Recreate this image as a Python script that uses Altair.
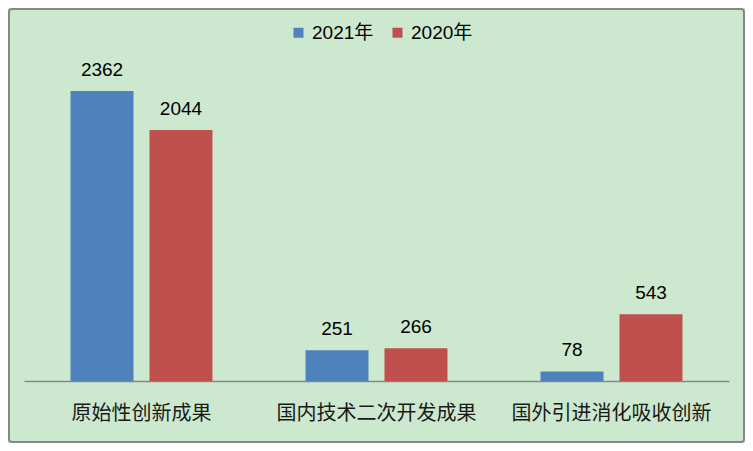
import altair as alt
import pandas as pd

categories = ["原始性创新成果", "国内技术二次开发成果", "国外引进消化吸收创新"]
series = ["2021年", "2020年"]
values_2021 = [2362, 251, 78]
values_2020 = [2044, 266, 543]
colors = ["#4F81BD", "#C0504D"]

rows = []
for c, a, b in zip(categories, values_2021, values_2020):
    rows.append({"category": c, "series": series[0], "value": a})
    rows.append({"category": c, "series": series[1], "value": b})
df = pd.DataFrame(rows)

NUM_FONT = "Liberation Sans, Noto Sans CJK SC"
CJK_FONT = "Noto Sans CJK SC"

x_enc = alt.X(
    "category:N",
    sort=categories,
    scale=alt.Scale(paddingInner=0.396, paddingOuter=0.198),
    axis=alt.Axis(
        title=None,
        labelAngle=0,
        domainColor="#868686",
        domainWidth=1.5,
        ticks=False,
        labelFont=CJK_FONT,
        labelFontSize=20,
        labelColor="#1a1a1a",
        labelPadding=22,
        labelLimit=0,
    ),
)
xo_enc = alt.XOffset(
    "series:N", sort=series, scale=alt.Scale(paddingInner=0.2025, paddingOuter=0)
)
y_enc = alt.Y("value:Q", scale=alt.Scale(domain=[0, 2500]), axis=None)

base = alt.Chart(df)

bars = base.mark_bar().encode(
    x=x_enc,
    xOffset=xo_enc,
    y=y_enc,
    color=alt.Color(
        "series:N",
        sort=series,
        scale=alt.Scale(domain=series, range=colors),
        legend=alt.Legend(
            title=None,
            orient="none",
            direction="horizontal",
            legendX=265,
            legendY=-51,
            symbolType="square",
            symbolSize=100,
            symbolStrokeWidth=0,
            labelFont=NUM_FONT,
            labelFontSize=19,
            labelColor="#000000",
            labelOffset=4,
            columnPadding=14,
            padding=0,
        ),
    ),
)

labels = base.mark_text(
    dy=-21, baseline="middle", font=NUM_FONT, fontSize=19, color="#000000"
).encode(x=x_enc, xOffset=xo_enc, y=y_enc, text="value:Q")

border = (
    alt.Chart(pd.DataFrame({"k": [0]}))
    .mark_rect(fill="transparent", stroke="#868686", strokeWidth=2, cornerRadius=3)
    .encode(
        x=alt.value(-15), x2=alt.value(720), y=alt.value(-65), y2=alt.value(368)
    )
)

chart = (
    alt.layer(border, bars, labels)
    .properties(
        width=705,
        height=307,
        autosize=alt.AutoSizeParams(type="none"),
        padding={"left": 16, "right": 16, "top": 66, "bottom": 62},
        background="#CCE8CF",
    )
    .configure_view(stroke=None)
)

chart.save("out.html", embed_options={"renderer": "svg", "actions": False})
